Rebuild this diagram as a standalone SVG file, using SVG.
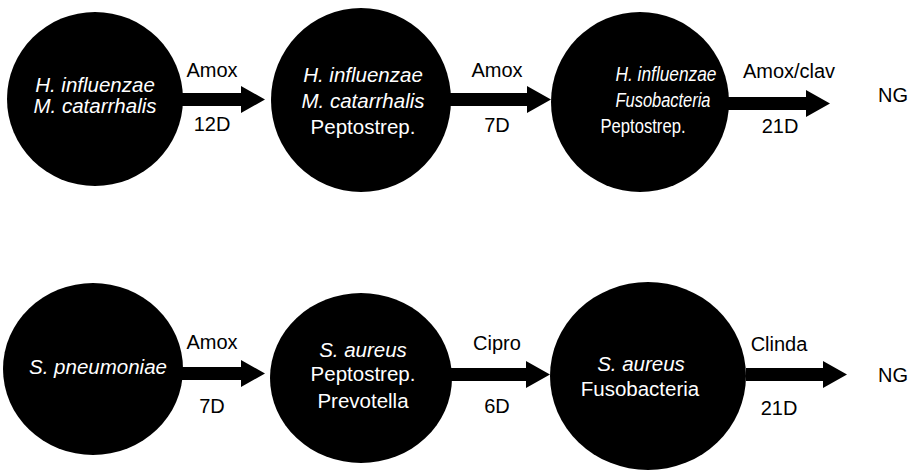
<svg xmlns="http://www.w3.org/2000/svg" width="913" height="470" viewBox="0 0 913 470">
<style>
.node{fill:#000}
.nt{fill:#fff;font-family:"Liberation Sans",Arial,sans-serif;font-size:20.5px;text-anchor:middle}
.sm{font-size:19.5px}
.it{font-style:italic}
.lbl{fill:#000;font-family:"Liberation Sans",Arial,sans-serif;font-size:20px;text-anchor:middle}
.arrow{fill:#000}
</style>
<rect width="913" height="470" fill="#fff"/>
<g id="connectors">
  <polygon class="arrow" points="182,93 241,93 241,86 265,99.5 241,113 241,106 182,106"/>
  <polygon class="arrow" points="450,93 527,93 527,86 551,99.5 527,113 527,106 450,106"/>
  <polygon class="arrow" points="726,97 806,97 806,90 830,103.5 806,117 806,110 726,110"/>
  <polygon class="arrow" points="181,367 241,367 241,360 265,373.5 241,387 241,380 181,380"/>
  <polygon class="arrow" points="450,368 526,368 526,361 550,374.5 526,388 526,381 450,381"/>
  <polygon class="arrow" points="746,368 823,368 823,361 847,374.5 823,388 823,381 746,381"/>
  <text class="lbl" x="212" y="77">Amox</text>
  <text class="lbl" x="212" y="131">12D</text>
  <text class="lbl" x="497" y="77">Amox</text>
  <text class="lbl" x="497" y="132">7D</text>
  <text class="lbl" x="789" y="78">Amox/clav</text>
  <text class="lbl" x="780" y="133">21D</text>
  <text class="lbl" x="212" y="349">Amox</text>
  <text class="lbl" x="212" y="413">7D</text>
  <text class="lbl" x="497" y="350">Cipro</text>
  <text class="lbl" x="497" y="413">6D</text>
  <text class="lbl" x="779" y="351">Clinda</text>
  <text class="lbl" x="779" y="415">21D</text>
</g>
<g id="n1">
  <ellipse class="node" cx="95" cy="99" rx="88" ry="87"/>
  <text class="nt it" x="95" y="92">H. influenzae</text>
  <text class="nt it" x="95" y="113">M. catarrhalis</text>
</g>
<g id="n2">
  <ellipse class="node" cx="361" cy="100" rx="90" ry="92"/>
  <text class="nt it" x="363" y="82">H. influenzae</text>
  <text class="nt it" x="363" y="108">M. catarrhalis</text>
  <text class="nt" x="363" y="134">Peptostrep.</text>
</g>
<g id="n3">
  <ellipse class="node" cx="640" cy="102" rx="89" ry="90"/>
  <text class="nt sm it" x="666" y="81" textLength="101" lengthAdjust="spacingAndGlyphs">H. influenzae</text>
  <text class="nt sm it" x="663" y="107" textLength="95" lengthAdjust="spacingAndGlyphs">Fusobacteria</text>
  <text class="nt sm" x="643" y="133" textLength="85" lengthAdjust="spacingAndGlyphs">Peptostrep.</text>
</g>
<g id="ng1">
  <text class="lbl" x="893" y="102">NG</text>
</g>
<g id="n4">
  <ellipse class="node" cx="93" cy="369" rx="90" ry="86"/>
  <text class="nt it" x="98" y="374">S. pneumoniae</text>
</g>
<g id="n5">
  <ellipse class="node" cx="361" cy="378" rx="91" ry="85"/>
  <text class="nt it" x="363" y="357">S. aureus</text>
  <text class="nt" x="363" y="381">Peptostrep.</text>
  <text class="nt" x="363" y="408">Prevotella</text>
</g>
<g id="n6">
  <ellipse class="node" cx="648" cy="376" rx="98" ry="94"/>
  <text class="nt it" x="641" y="371">S. aureus</text>
  <text class="nt" x="640" y="396">Fusobacteria</text>
</g>
<g id="ng2">
  <text class="lbl" x="893" y="382">NG</text>
</g>
</svg>
